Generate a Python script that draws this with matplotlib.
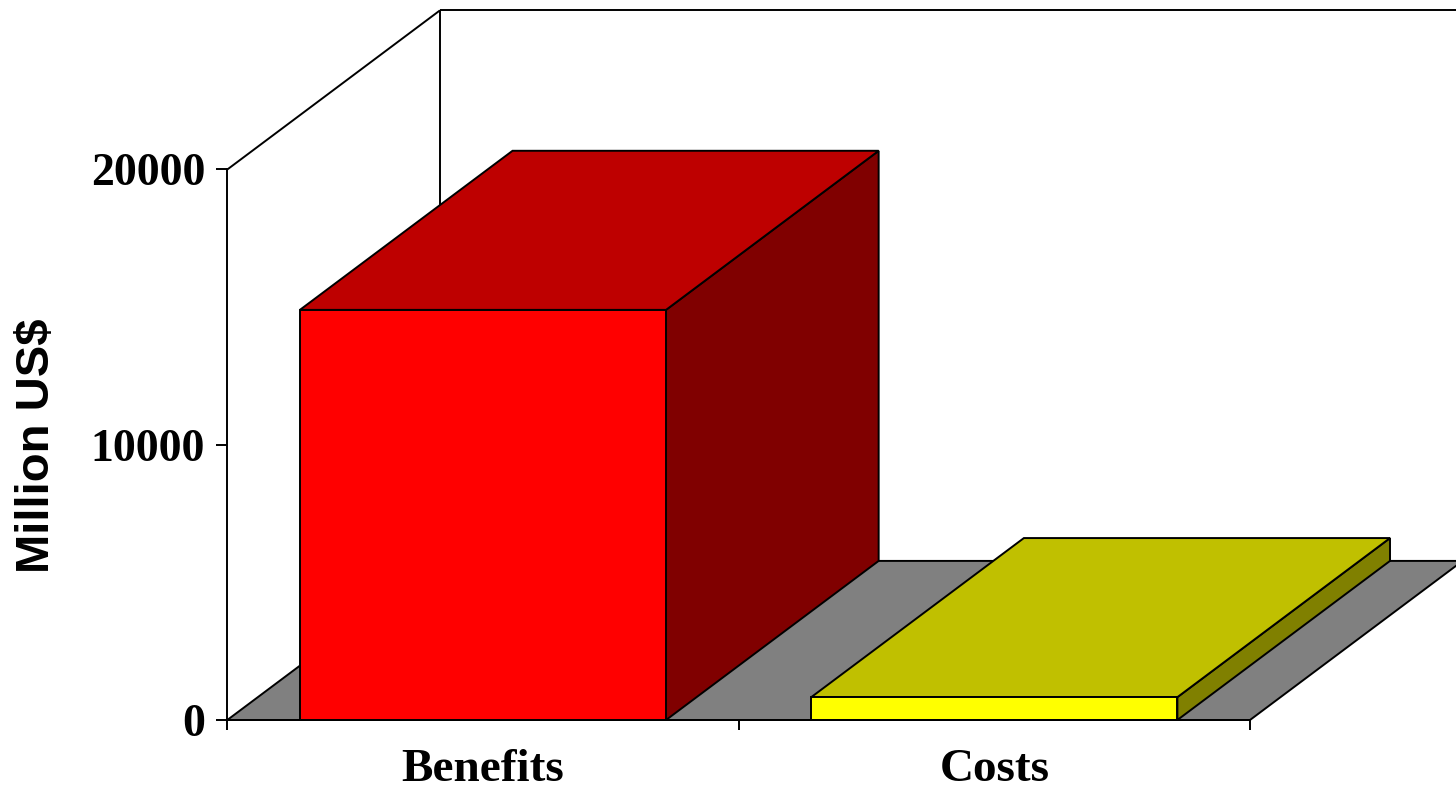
import matplotlib.pyplot as plt
from matplotlib.patches import Polygon

# figures in million US$
categories = ['Benefits', 'Costs']
values = [14900, 830]
front_colors = ['#FF0000', '#FFFF00']
top_colors = ['#BE0000', '#C0C000']
side_colors = ['#800000', '#808000']

y_ticks = [0, 10000, 20000]
y_max = 20000

# oblique depth of the 3d box, in category units and value units
depth_x = 0.4158
depth_y = 5780
bar_width = 0.716
lw = 1.4

fig = plt.figure(figsize=(14.56, 7.93), dpi=100)
fig.patch.set_facecolor('white')
# axes box is the front plane of the chart
ax = fig.add_axes([227.3 / 1456, 73 / 793, 1022.7 / 1456, 550.5 / 793])
ax.set_xlim(0, len(categories))
ax.set_ylim(0, y_max)
ax.patch.set_visible(False)

n = len(categories)

# floor
floor = Polygon([(0, 0), (n, 0), (n + depth_x, depth_y), (depth_x, depth_y)],
                closed=True, facecolor='#808080', edgecolor='black', lw=lw,
                clip_on=False, zorder=0.5)
ax.add_patch(floor)

# left and back wall edges
wall_kw = dict(color='black', lw=lw, clip_on=False, zorder=0.6, solid_capstyle='butt')
ax.plot([0, depth_x], [y_max, y_max + depth_y], **wall_kw)
ax.plot([depth_x, depth_x], [depth_y, y_max + depth_y], **wall_kw)
ax.plot([depth_x, n + depth_x], [y_max + depth_y, y_max + depth_y], **wall_kw)
ax.plot([n + depth_x, n + depth_x], [depth_y, y_max + depth_y], **wall_kw)

# 3d columns: side face, top face, front face
for i, (val, fc, tc, sc) in enumerate(zip(values, front_colors, top_colors, side_colors)):
    x0 = i + 0.5 - bar_width / 2
    x1 = i + 0.5 + bar_width / 2
    side = Polygon([(x1, 0), (x1 + depth_x, depth_y), (x1 + depth_x, val + depth_y), (x1, val)],
                   closed=True, facecolor=sc, edgecolor='black', lw=lw, clip_on=False, zorder=1)
    top = Polygon([(x0, val), (x1, val), (x1 + depth_x, val + depth_y), (x0 + depth_x, val + depth_y)],
                  closed=True, facecolor=tc, edgecolor='black', lw=lw, clip_on=False, zorder=1)
    front = Polygon([(x0, 0), (x1, 0), (x1, val), (x0, val)],
                    closed=True, facecolor=fc, edgecolor='black', lw=lw, clip_on=False, zorder=1.1)
    ax.add_patch(side)
    ax.add_patch(top)
    ax.add_patch(front)

# axes
for s in ['top', 'right']:
    ax.spines[s].set_visible(False)
for s in ['left', 'bottom']:
    ax.spines[s].set_linewidth(lw)
    ax.spines[s].set_zorder(3)

ax.set_yticks(y_ticks)
ax.set_yticklabels([str(t) for t in y_ticks])
ax.tick_params(axis='y', direction='out', length=8, width=lw, pad=8)
for lab in ax.get_yticklabels():
    lab.set_fontfamily('Liberation Serif')
    lab.set_fontweight('bold')
    lab.set_fontsize(33)

ax.set_xticks(range(n + 1))
ax.set_xticklabels([])
ax.tick_params(axis='x', which='major', direction='out', length=7, width=lw)
ax.set_xticks([i + 0.5 for i in range(n)], minor=True)
ax.set_xticklabels(categories, minor=True, fontfamily='Liberation Serif',
                   fontweight='bold', fontsize=34)
ax.tick_params(axis='x', which='minor', length=0, pad=21)

fig.text(37 / 1456, 1 - 446 / 793, 'Million US$', rotation=90, ha='center', va='center',
         fontfamily='Liberation Sans', fontweight='bold', fontsize=34)

fig.savefig('out.png', dpi=100, facecolor='white')
